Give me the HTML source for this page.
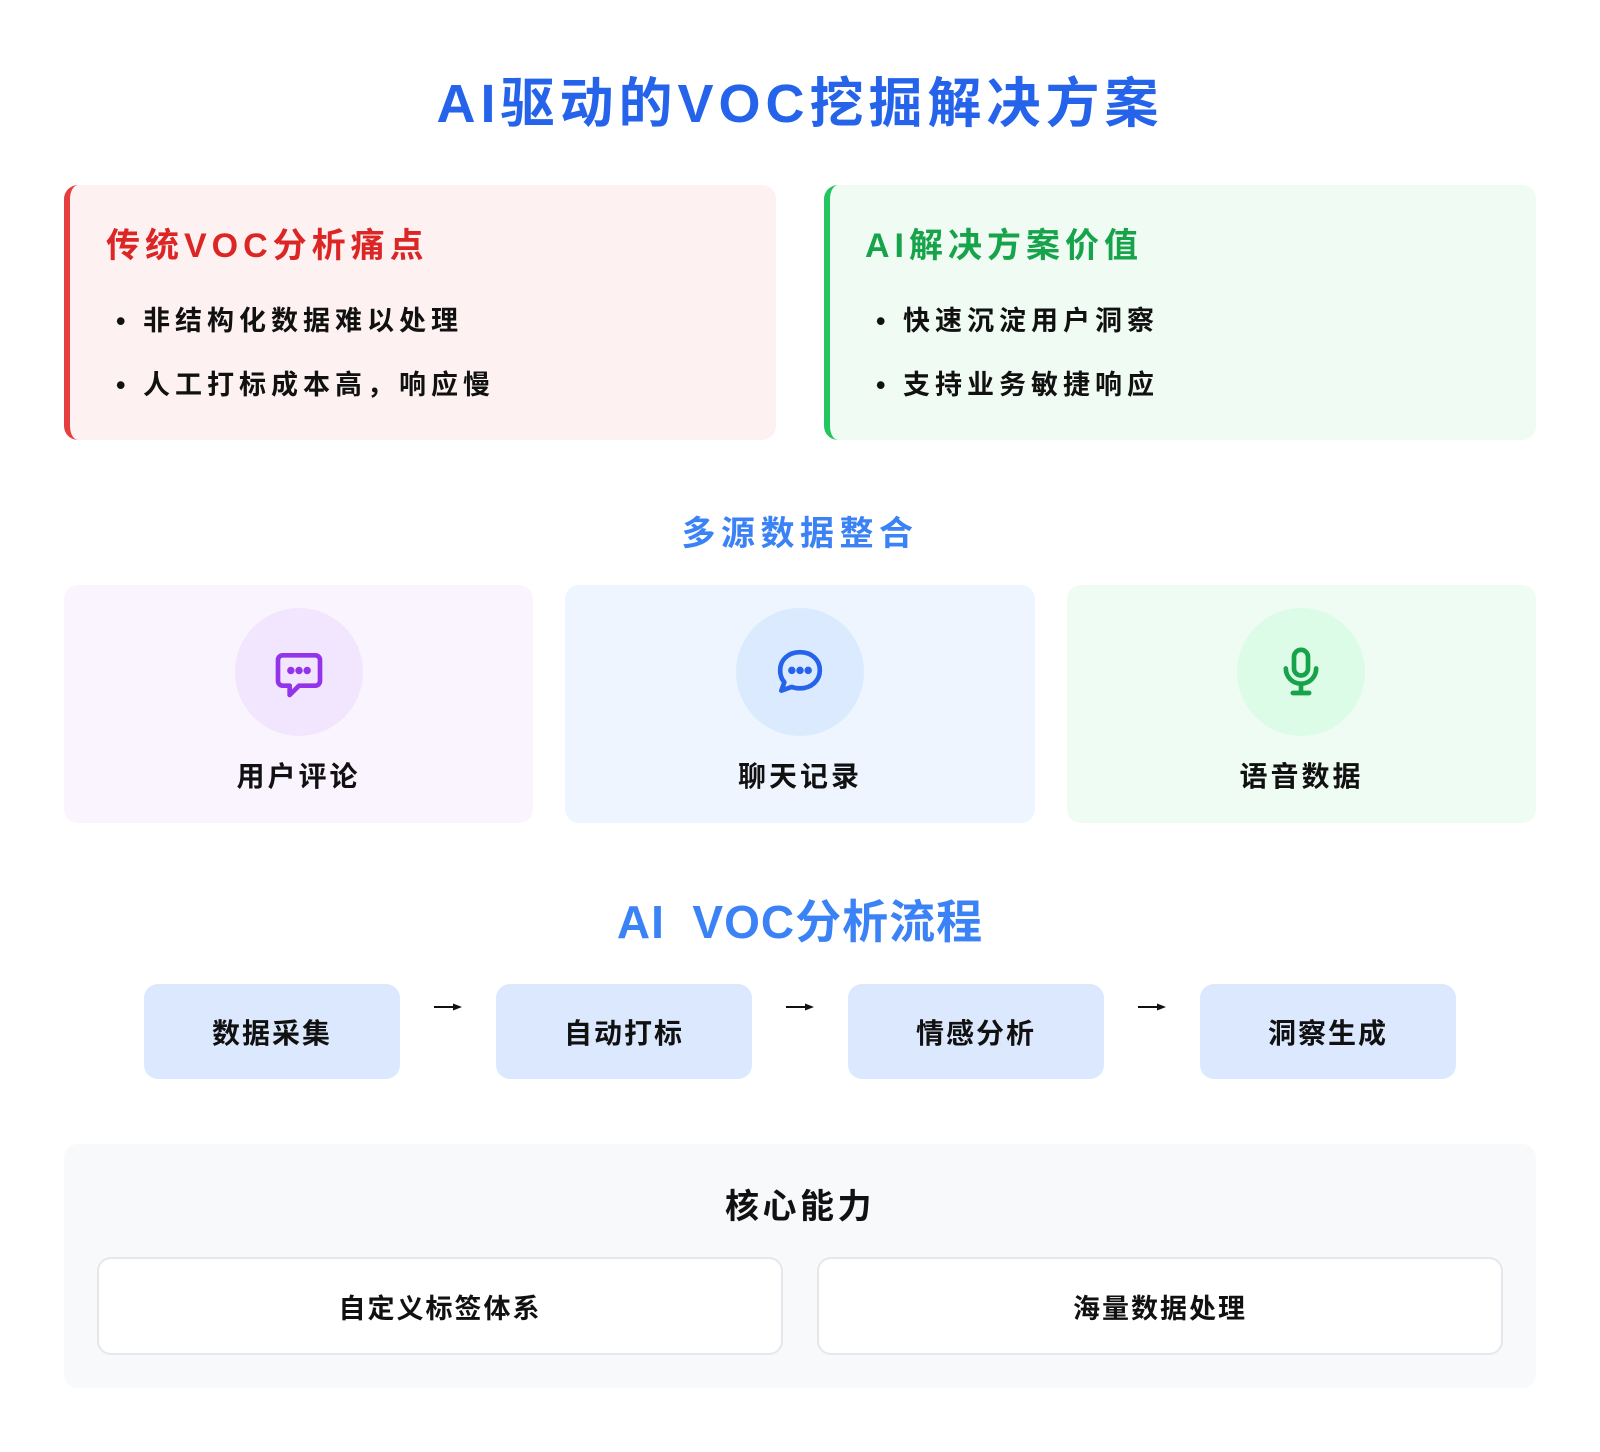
<!DOCTYPE html>
<html><head><meta charset="utf-8"><style>
*{margin:0;padding:0;box-sizing:border-box}
body{width:1600px;height:1452px;background:#fff;font-family:"Liberation Sans","Noto Sans CJK SC",sans-serif;font-weight:700;position:relative;overflow:hidden;color:#111}
.a{position:absolute}
.c{display:flex;align-items:center;justify-content:center}
.card{border-radius:14px}
.t{white-space:nowrap}
</style></head><body>
<div class="a c t" style="left:0;width:1600px;top:63px;height:70px;font-size:54px;color:#2563eb;letter-spacing:5px">AI驱动的VOC挖掘解决方案</div>

<div class="a card" style="left:64px;top:185px;width:712px;height:255px;background:#fdf1f1;border-left:6px solid #e53e3e"></div>
<div class="a t" style="left:106px;top:218px;font-size:34px;color:#dc2626;letter-spacing:5px">传统VOC分析痛点</div>
<div class="a t" style="left:116px;top:299px;font-size:27px;letter-spacing:5px">•&nbsp;非结构化数据难以处理</div>
<div class="a t" style="left:116px;top:363px;font-size:27px;letter-spacing:5px">•&nbsp;人工打标成本高，响应慢</div>

<div class="a card" style="left:824px;top:185px;width:712px;height:255px;background:#effbf3;border-left:6px solid #22c55e"></div>
<div class="a t" style="left:865px;top:218px;font-size:34px;color:#16a34a;letter-spacing:5px">AI解决方案价值</div>
<div class="a t" style="left:876px;top:299px;font-size:27px;letter-spacing:5px">•&nbsp;快速沉淀用户洞察</div>
<div class="a t" style="left:876px;top:363px;font-size:27px;letter-spacing:5px">•&nbsp;支持业务敏捷响应</div>

<div class="a c t" style="left:0;width:1600px;top:507px;height:46px;font-size:34px;color:#3b82f6;letter-spacing:5.5px">多源数据整合</div>

<div class="a card" style="left:64px;top:585px;width:469px;height:238px;background:#f9f4fe"></div>
<div class="a" style="left:235px;top:608px;width:128px;height:128px;border-radius:50%;background:#f2e6fe"></div>
<svg class="a" style="left:271px;top:646px" width="56" height="56" viewBox="0 0 24 24" fill="none" stroke="#9333ea" stroke-width="2" stroke-linejoin="round"><path d="M5 4h14a2 2 0 0 1 2 2v9a2 2 0 0 1-2 2h-7l-4 4v-4H5a2 2 0 0 1-2-2V6a2 2 0 0 1 2-2z"/><circle cx="8.5" cy="10.5" r=".6" fill="#9333ea"/><circle cx="12" cy="10.5" r=".6" fill="#9333ea"/><circle cx="15.5" cy="10.5" r=".6" fill="#9333ea"/></svg>
<div class="a c t" style="left:64px;width:469px;top:755px;height:40px;font-size:28px;letter-spacing:3px">用户评论</div>

<div class="a card" style="left:565px;top:585px;width:470px;height:238px;background:#eef5ff"></div>
<div class="a" style="left:736px;top:608px;width:128px;height:128px;border-radius:50%;background:#dbeafe"></div>
<svg class="a" style="left:772px;top:644px" width="56" height="56" viewBox="0 0 24 24" fill="none" stroke="#2563eb" stroke-width="2" stroke-linejoin="round"><path d="M12 3.5c5 0 8.5 3.3 8.5 7.7S17 19 12 19c-1.3 0-2.5-.2-3.6-.6L4 20l1.3-3.6C4 15 3.5 13.2 3.5 11.2 3.5 6.8 7 3.5 12 3.5z"/><circle cx="8.5" cy="11.3" r=".6" fill="#2563eb"/><circle cx="12" cy="11.3" r=".6" fill="#2563eb"/><circle cx="15.5" cy="11.3" r=".6" fill="#2563eb"/></svg>
<div class="a c t" style="left:565px;width:470px;top:755px;height:40px;font-size:28px;letter-spacing:3px">聊天记录</div>

<div class="a card" style="left:1067px;top:585px;width:469px;height:238px;background:#effcf3"></div>
<div class="a" style="left:1237px;top:608px;width:128px;height:128px;border-radius:50%;background:#dcfce7"></div>
<svg class="a" style="left:1273px;top:644px" width="56" height="56" viewBox="0 0 24 24" fill="none" stroke="#16a34a" stroke-width="2" stroke-linecap="round"><rect x="9" y="2.5" width="6" height="11" rx="3"/><path d="M5.5 10.5a6.5 6.5 0 0 0 13 0M12 17v4M8.5 21h7"/></svg>
<div class="a c t" style="left:1067px;width:469px;top:755px;height:40px;font-size:28px;letter-spacing:3px">语音数据</div>

<div class="a c t" style="left:0;width:1600px;top:891px;height:56px;font-size:46px;color:#3b82f6;letter-spacing:1px">AI&nbsp; VOC分析流程</div>

<div class="a card c t" style="left:144px;top:984px;width:256px;height:95px;background:#dbe8fe;font-size:28px;letter-spacing:2px">数据采集</div>
<div class="a card c t" style="left:496px;top:984px;width:256px;height:95px;background:#dbe8fe;font-size:28px;letter-spacing:2px">自动打标</div>
<div class="a card c t" style="left:848px;top:984px;width:256px;height:95px;background:#dbe8fe;font-size:28px;letter-spacing:2px">情感分析</div>
<div class="a card c t" style="left:1200px;top:984px;width:256px;height:95px;background:#dbe8fe;font-size:28px;letter-spacing:2px">洞察生成</div>
<svg class="a" style="left:0;top:0" width="1600" height="1452"><g stroke="#111" stroke-width="2" fill="#111">
<line x1="434" y1="1007" x2="455" y2="1007"/><path d="M462 1007l-9-3.5v7z" stroke="none"/>
<line x1="786" y1="1007" x2="807" y2="1007"/><path d="M814 1007l-9-3.5v7z" stroke="none"/>
<line x1="1138" y1="1007" x2="1159" y2="1007"/><path d="M1166 1007l-9-3.5v7z" stroke="none"/>
</g></svg>

<div class="a card" style="left:64px;top:1144px;width:1472px;height:244px;background:#f8f9fb"></div>
<div class="a c t" style="left:0;width:1600px;top:1180px;height:46px;font-size:34px;letter-spacing:3.5px">核心能力</div>
<div class="a card c t" style="left:97px;top:1257px;width:686px;height:98px;background:#fff;border:2px solid #e5e7eb;font-size:27px;letter-spacing:2px">自定义标签体系</div>
<div class="a card c t" style="left:817px;top:1257px;width:686px;height:98px;background:#fff;border:2px solid #e5e7eb;font-size:27px;letter-spacing:2px">海量数据处理</div>
</body></html>
